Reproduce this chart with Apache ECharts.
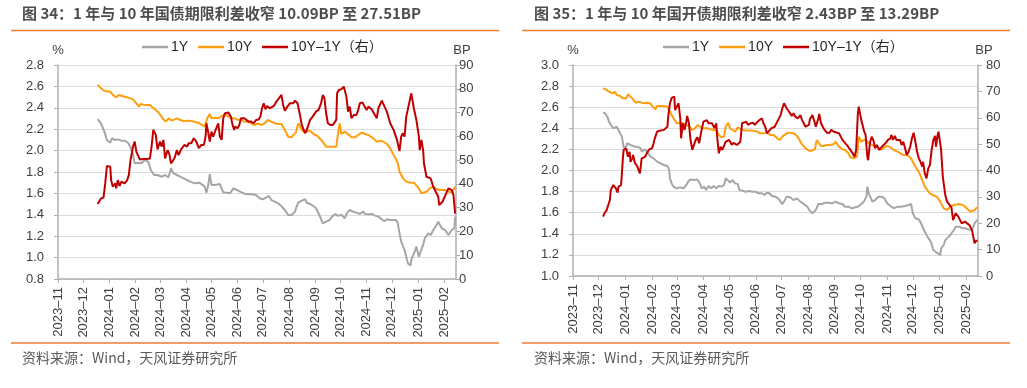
<!DOCTYPE html>
<html><head><meta charset="utf-8">
<script src="https://cdn.jsdelivr.net/npm/echarts@6/dist/echarts.min.js"></script>
<style>
html,body{margin:0;padding:0;background:#fff;}
#wrap{position:relative;width:1027px;height:388px;overflow:hidden;}
#c1{position:absolute;left:0;top:0;width:513px;height:388px;}
#c2{position:absolute;left:513px;top:0;width:514px;height:388px;}
</style>
</head><body><div id="wrap"><div id="c1"></div><div id="c2"></div></div>
<script>
// ---------- text ----------
const title1 = '图 34：1 年与 10 年国债期限利差收窄 10.09BP 至 27.51BP';
const title2 = '图 35：1 年与 10 年国开债期限利差收窄 2.43BP 至 13.29BP';
const sourceText = '资料来源：Wind，天风证券研究所';
const seriesNames = ['1Y', '10Y', '10Y–1Y（右）'];
const monthTicks = ['2023-11-01','2023-12-01','2024-01-01','2024-02-01','2024-03-01','2024-04-01','2024-05-01','2024-06-01','2024-07-01','2024-08-01','2024-09-01','2024-10-01','2024-11-01','2024-12-01','2025-01-01','2025-02-01'];
const xRange = ['2023-11-01', '2025-02-15'];

// ---------- chart 34: 国债 ----------
const cgb1Y = [['2023-12-18',2.295],['2023-12-20',2.286],['2023-12-22',2.255],['2023-12-26',2.177],['2023-12-29',2.099],['2024-01-02',2.074],['2024-01-04',2.115],['2024-01-08',2.099],['2024-01-11',2.105],['2024-01-15',2.093],['2024-01-19',2.093],['2024-01-23',2.074],['2024-01-26',2.031],['2024-01-29',1.959],['2024-01-31',1.881],['2024-02-04',1.887],['2024-02-08',1.881],['2024-02-12',1.912],['2024-02-16',1.897],['2024-02-19',1.819],['2024-02-23',1.772],['2024-02-27',1.772],['2024-03-03',1.756],['2024-03-07',1.772],['2024-03-11',1.750],['2024-03-14',1.834],['2024-03-17',1.788],['2024-03-21',1.772],['2024-03-25',1.756],['2024-03-29',1.741],['2024-04-02',1.725],['2024-04-06',1.710],['2024-04-11',1.694],['2024-04-17',1.700],['2024-04-23',1.663],['2024-04-25',1.607],['2024-04-27',1.669],['2024-04-29',1.781],['2024-05-01',1.679],['2024-05-05',1.679],['2024-05-11',1.688],['2024-05-13',1.647],['2024-05-15',1.610],['2024-05-19',1.607],['2024-05-23',1.601],['2024-05-27',1.647],['2024-05-31',1.632],['2024-06-04',1.616],['2024-06-08',1.601],['2024-06-12',1.591],['2024-06-17',1.594],['2024-06-23',1.585],['2024-06-27',1.554],['2024-07-01',1.545],['2024-07-05',1.563],['2024-07-08',1.576],['2024-07-11',1.538],['2024-07-15',1.523],['2024-07-19',1.507],['2024-07-23',1.482],['2024-07-27',1.445],['2024-07-31',1.398],['2024-08-04',1.398],['2024-08-08',1.429],['2024-08-10',1.476],['2024-08-12',1.513],['2024-08-16',1.532],['2024-08-20',1.545],['2024-08-22',1.513],['2024-08-26',1.501],['2024-08-30',1.482],['2024-09-02',1.460],['2024-09-06',1.398],['2024-09-10',1.320],['2024-09-14',1.336],['2024-09-18',1.351],['2024-09-21',1.383],['2024-09-25',1.408],['2024-09-28',1.390],['2024-10-02',1.400],['2024-10-06',1.367],['2024-10-09',1.420],['2024-10-12',1.445],['2024-10-16',1.429],['2024-10-20',1.420],['2024-10-24',1.408],['2024-10-28',1.429],['2024-10-30',1.408],['2024-11-03',1.405],['2024-11-07',1.408],['2024-11-11',1.392],['2024-11-15',1.383],['2024-11-19',1.358],['2024-11-22',1.339],['2024-11-25',1.358],['2024-11-29',1.351],['2024-12-03',1.351],['2024-12-06',1.351],['2024-12-08',1.320],['2024-12-10',1.227],['2024-12-12',1.149],['2024-12-16',1.071],['2024-12-18',1.009],['2024-12-20',0.946],['2024-12-23',0.925],['2024-12-24',0.978],['2024-12-28',1.055],['2024-12-30',1.102],['2025-01-02',1.009],['2025-01-04',1.055],['2025-01-07',1.118],['2025-01-09',1.180],['2025-01-13',1.227],['2025-01-16',1.211],['2025-01-19',1.258],['2025-01-23',1.305],['2025-01-25',1.336],['2025-01-29',1.274],['2025-02-02',1.258],['2025-02-06',1.211],['2025-02-10',1.258],['2025-02-13',1.274],['2025-02-14',1.383]];

const cgb10Y = [['2023-12-18',2.616],['2023-12-22',2.582],['2023-12-26',2.557],['2024-01-02',2.551],['2024-01-05',2.520],['2024-01-09',2.498],['2024-01-12',2.520],['2024-01-19',2.504],['2024-01-23',2.495],['2024-01-29',2.479],['2024-02-02',2.442],['2024-02-05',2.411],['2024-02-07',2.436],['2024-02-12',2.426],['2024-02-18',2.426],['2024-02-21',2.404],['2024-02-26',2.373],['2024-02-29',2.348],['2024-03-05',2.292],['2024-03-08',2.270],['2024-03-11',2.302],['2024-03-15',2.280],['2024-03-21',2.302],['2024-03-25',2.286],['2024-03-29',2.277],['2024-04-05',2.280],['2024-04-11',2.270],['2024-04-17',2.255],['2024-04-23',2.224],['2024-04-26',2.302],['2024-04-29',2.342],['2024-05-01',2.302],['2024-05-05',2.308],['2024-05-09',2.302],['2024-05-13',2.323],['2024-05-17',2.339],['2024-05-21',2.317],['2024-05-25',2.302],['2024-05-29',2.302],['2024-06-01',2.286],['2024-06-05',2.292],['2024-06-09',2.270],['2024-06-13',2.270],['2024-06-17',2.255],['2024-06-21',2.239],['2024-06-25',2.255],['2024-06-29',2.239],['2024-07-03',2.255],['2024-07-07',2.286],['2024-07-11',2.270],['2024-07-15',2.255],['2024-07-19',2.249],['2024-07-23',2.249],['2024-07-27',2.193],['2024-07-31',2.130],['2024-08-04',2.124],['2024-08-06',2.146],['2024-08-09',2.168],['2024-08-12',2.255],['2024-08-15',2.208],['2024-08-18',2.177],['2024-08-22',2.177],['2024-08-26',2.186],['2024-08-30',2.155],['2024-09-04',2.136],['2024-09-10',2.083],['2024-09-14',2.037],['2024-09-20',2.037],['2024-09-26',2.037],['2024-09-28',2.155],['2024-09-30',2.255],['2024-10-02',2.155],['2024-10-06',2.177],['2024-10-10',2.155],['2024-10-14',2.124],['2024-10-18',2.124],['2024-10-22',2.146],['2024-10-26',2.168],['2024-10-30',2.155],['2024-11-03',2.146],['2024-11-09',2.114],['2024-11-13',2.083],['2024-11-17',2.093],['2024-11-21',2.083],['2024-11-25',2.062],['2024-11-29',2.021],['2024-12-03',1.959],['2024-12-06',1.918],['2024-12-08',1.881],['2024-12-10',1.804],['2024-12-14',1.741],['2024-12-18',1.710],['2024-12-23',1.700],['2024-12-27',1.700],['2024-12-29',1.694],['2025-01-02',1.647],['2025-01-05',1.601],['2025-01-07',1.594],['2025-01-11',1.616],['2025-01-15',1.647],['2025-01-19',1.663],['2025-01-23',1.641],['2025-01-27',1.632],['2025-02-02',1.632],['2025-02-06',1.616],['2025-02-10',1.610],['2025-02-13',1.647],['2025-02-14',1.663]];

const cgbSpread = [['2023-12-18',31.5],['2023-12-20',31.1],['2023-12-22',33.9],['2023-12-25',34.3],['2023-12-27',40.2],['2023-12-29',47.5],['2024-01-02',47.2],['2024-01-03',41.6],['2024-01-05',38.8],['2024-01-08',40.2],['2024-01-09',38.1],['2024-01-11',41.6],['2024-01-13',39.1],['2024-01-15',40.9],['2024-01-17',40.9],['2024-01-19',40.2],['2024-01-22',41.6],['2024-01-24',43.7],['2024-01-26',50.0],['2024-01-29',55.7],['2024-01-31',57.8],['2024-02-02',53.5],['2024-02-04',52.8],['2024-02-06',50.3],['2024-02-10',50.5],['2024-02-14',50.5],['2024-02-18',50.7],['2024-02-20',55.7],['2024-02-22',62.7],['2024-02-25',60.6],['2024-02-27',54.5],['2024-03-01',57.8],['2024-03-03',55.7],['2024-03-05',58.5],['2024-03-07',50.7],['2024-03-10',54.2],['2024-03-12',52.6],['2024-03-14',48.6],['2024-03-18',50.7],['2024-03-21',54.2],['2024-03-23',52.1],['2024-03-26',54.5],['2024-03-30',56.4],['2024-04-02',55.7],['2024-04-04',57.1],['2024-04-07',57.1],['2024-04-10',59.2],['2024-04-13',57.8],['2024-04-16',55.0],['2024-04-19',56.4],['2024-04-22',56.4],['2024-04-24',59.9],['2024-04-25',65.5],['2024-04-27',62.0],['2024-04-29',57.8],['2024-05-01',62.0],['2024-05-03',59.9],['2024-05-06',62.7],['2024-05-09',65.5],['2024-05-11',59.9],['2024-05-13',58.5],['2024-05-15',67.6],['2024-05-17',69.7],['2024-05-19',70.0],['2024-05-21',70.0],['2024-05-24',68.3],['2024-05-26',64.8],['2024-05-28',62.7],['2024-05-29',64.1],['2024-06-01',63.4],['2024-06-03',64.8],['2024-06-05',67.6],['2024-06-09',67.6],['2024-06-11',67.6],['2024-06-14',66.2],['2024-06-17',66.2],['2024-06-20',65.5],['2024-06-23',66.9],['2024-06-26',67.1],['2024-06-28',68.3],['2024-06-30',71.8],['2024-07-02',73.9],['2024-07-04',71.4],['2024-07-06',72.8],['2024-07-09',71.8],['2024-07-11',72.5],['2024-07-14',72.8],['2024-07-17',74.6],['2024-07-20',76.0],['2024-07-23',77.4],['2024-07-25',73.2],['2024-07-27',70.8],['2024-07-30',72.5],['2024-08-02',73.9],['2024-08-04',74.6],['2024-08-06',73.9],['2024-08-08',75.0],['2024-08-11',73.9],['2024-08-14',69.0],['2024-08-16',64.8],['2024-08-20',61.3],['2024-08-22',62.7],['2024-08-26',66.9],['2024-08-29',68.3],['2024-08-31',67.6],['2024-09-02',70.4],['2024-09-05',71.1],['2024-09-08',73.9],['2024-09-10',77.4],['2024-09-12',76.0],['2024-09-14',69.7],['2024-09-16',65.5],['2024-09-19',64.8],['2024-09-22',64.8],['2024-09-24',64.8],['2024-09-26',66.9],['2024-09-27',78.1],['2024-09-29',79.5],['2024-10-02',79.8],['2024-10-05',80.9],['2024-10-07',81.6],['2024-10-08',76.7],['2024-10-10',70.4],['2024-10-12',72.5],['2024-10-14',67.6],['2024-10-17',69.0],['2024-10-20',69.0],['2024-10-22',71.1],['2024-10-24',73.9],['2024-10-27',74.2],['2024-10-29',75.0],['2024-11-01',71.1],['2024-11-03',72.5],['2024-11-05',73.2],['2024-11-07',71.4],['2024-11-09',70.8],['2024-11-13',67.6],['2024-11-15',71.8],['2024-11-19',75.0],['2024-11-25',70.4],['2024-11-29',65.5],['2024-12-03',62.7],['2024-12-07',58.5],['2024-12-10',53.8],['2024-12-12',59.9],['2024-12-14',61.3],['2024-12-16',59.9],['2024-12-18',68.3],['2024-12-21',73.2],['2024-12-24',78.1],['2024-12-27',71.8],['2024-12-30',66.9],['2025-01-02',59.9],['2025-01-03',54.2],['2025-01-05',58.5],['2025-01-07',54.2],['2025-01-08',48.7],['2025-01-11',43.0],['2025-01-16',42.3],['2025-01-19',38.8],['2025-01-22',36.7],['2025-01-25',34.6],['2025-01-26',31.1],['2025-01-30',32.5],['2025-02-06',38.1],['2025-02-10',37.4],['2025-02-12',35.3],['2025-02-14',27.5]];

// ---------- chart 35: 国开债 ----------
const cdb1Y = [['2023-12-06',2.551],['2023-12-09',2.536],['2023-12-11',2.510],['2023-12-13',2.463],['2023-12-16',2.422],['2023-12-18',2.400],['2023-12-20',2.390],['2023-12-22',2.415],['2023-12-24',2.384],['2023-12-26',2.368],['2023-12-28',2.321],['2023-12-30',2.220],['2024-01-02',2.226],['2024-01-03',2.258],['2024-01-05',2.273],['2024-01-07',2.242],['2024-01-09',2.242],['2024-01-12',2.226],['2024-01-15',2.226],['2024-01-17',2.220],['2024-01-19',2.210],['2024-01-20',2.179],['2024-01-24',2.201],['2024-01-26',2.210],['2024-01-28',2.163],['2024-01-30',2.131],['2024-02-03',2.115],['2024-02-07',2.084],['2024-02-11',2.068],['2024-02-15',2.052],['2024-02-19',2.043],['2024-02-21',2.005],['2024-02-22',1.926],['2024-02-24',1.878],['2024-02-26',1.847],['2024-03-01',1.831],['2024-03-05',1.840],['2024-03-09',1.831],['2024-03-12',1.863],['2024-03-15',1.904],['2024-03-18',1.916],['2024-03-21',1.910],['2024-03-25',1.916],['2024-03-28',1.872],['2024-03-30',1.831],['2024-04-02',1.847],['2024-04-04',1.815],['2024-04-07',1.853],['2024-04-10',1.831],['2024-04-13',1.853],['2024-04-16',1.831],['2024-04-19',1.853],['2024-04-22',1.847],['2024-04-25',1.863],['2024-04-27',1.926],['2024-04-30',1.904],['2024-05-02',1.885],['2024-05-05',1.910],['2024-05-08',1.878],['2024-05-11',1.872],['2024-05-13',1.815],['2024-05-16',1.809],['2024-05-20',1.799],['2024-05-24',1.806],['2024-05-28',1.799],['2024-06-01',1.799],['2024-06-04',1.784],['2024-06-08',1.784],['2024-06-11',1.768],['2024-06-14',1.790],['2024-06-17',1.784],['2024-06-20',1.758],['2024-06-24',1.752],['2024-06-28',1.727],['2024-07-02',1.682],['2024-07-05',1.720],['2024-07-07',1.752],['2024-07-11',1.746],['2024-07-15',1.720],['2024-07-19',1.736],['2024-07-23',1.705],['2024-07-27',1.682],['2024-07-31',1.657],['2024-08-03',1.619],['2024-08-06',1.594],['2024-08-10',1.626],['2024-08-13',1.682],['2024-08-17',1.682],['2024-08-21',1.695],['2024-08-25',1.695],['2024-08-29',1.689],['2024-09-02',1.705],['2024-09-06',1.689],['2024-09-10',1.682],['2024-09-13',1.657],['2024-09-17',1.657],['2024-09-21',1.641],['2024-09-25',1.651],['2024-09-28',1.657],['2024-09-30',1.641],['2024-10-02',1.682],['2024-10-05',1.705],['2024-10-08',1.752],['2024-10-09',1.847],['2024-10-11',1.774],['2024-10-13',1.743],['2024-10-15',1.705],['2024-10-18',1.720],['2024-10-22',1.752],['2024-10-26',1.752],['2024-10-29',1.736],['2024-11-01',1.689],['2024-11-05',1.664],['2024-11-09',1.641],['2024-11-13',1.657],['2024-11-17',1.657],['2024-11-22',1.664],['2024-11-26',1.673],['2024-11-29',1.682],['2024-12-01',1.594],['2024-12-04',1.547],['2024-12-08',1.537],['2024-12-11',1.493],['2024-12-14',1.436],['2024-12-18',1.373],['2024-12-22',1.325],['2024-12-25',1.246],['2024-12-29',1.221],['2025-01-02',1.199],['2025-01-03',1.262],['2025-01-06',1.294],['2025-01-08',1.341],['2025-01-12',1.373],['2025-01-15',1.404],['2025-01-18',1.436],['2025-01-20',1.468],['2025-01-24',1.468],['2025-01-28',1.452],['2025-01-31',1.452],['2025-02-04',1.442],['2025-02-08',1.436],['2025-02-11',1.499],['2025-02-12',1.515],['2025-02-14',1.531]];

const cdb10Y = [['2023-12-06',2.779],['2023-12-09',2.769],['2023-12-13',2.747],['2023-12-17',2.731],['2023-12-20',2.747],['2023-12-22',2.716],['2023-12-26',2.706],['2023-12-29',2.684],['2024-01-02',2.684],['2024-01-04',2.722],['2024-01-07',2.700],['2024-01-10',2.675],['2024-01-13',2.643],['2024-01-17',2.652],['2024-01-20',2.643],['2024-01-24',2.637],['2024-01-27',2.643],['2024-01-30',2.637],['2024-02-02',2.605],['2024-02-05',2.580],['2024-02-07',2.611],['2024-02-11',2.611],['2024-02-15',2.611],['2024-02-19',2.605],['2024-02-21',2.573],['2024-02-24',2.526],['2024-02-27',2.485],['2024-03-01',2.447],['2024-03-05',2.453],['2024-03-08',2.447],['2024-03-11',2.431],['2024-03-15',2.422],['2024-03-19',2.384],['2024-03-22',2.400],['2024-03-25',2.431],['2024-03-28',2.415],['2024-04-01',2.400],['2024-04-05',2.400],['2024-04-09',2.390],['2024-04-13',2.384],['2024-04-16',2.378],['2024-04-19',2.336],['2024-04-22',2.314],['2024-04-25',2.321],['2024-04-27',2.415],['2024-04-30',2.453],['2024-05-02',2.400],['2024-05-05',2.384],['2024-05-08',2.368],['2024-05-11',2.409],['2024-05-14',2.393],['2024-05-17',2.384],['2024-05-20',2.378],['2024-05-24',2.378],['2024-05-28',2.378],['2024-05-31',2.374],['2024-06-03',2.368],['2024-06-06',2.352],['2024-06-10',2.352],['2024-06-14',2.359],['2024-06-18',2.336],['2024-06-22',2.336],['2024-06-26',2.305],['2024-06-29',2.289],['2024-07-02',2.321],['2024-07-06',2.346],['2024-07-09',2.359],['2024-07-11',2.368],['2024-07-15',2.352],['2024-07-18',2.336],['2024-07-21',2.305],['2024-07-24',2.258],['2024-07-29',2.210],['2024-08-02',2.188],['2024-08-05',2.188],['2024-08-09',2.201],['2024-08-11',2.289],['2024-08-13',2.299],['2024-08-16',2.232],['2024-08-19',2.232],['2024-08-23',2.242],['2024-08-27',2.242],['2024-08-31',2.251],['2024-09-02',2.273],['2024-09-06',2.226],['2024-09-10',2.201],['2024-09-13',2.194],['2024-09-17',2.163],['2024-09-19',2.125],['2024-09-23',2.115],['2024-09-25',2.115],['2024-09-27',2.131],['2024-09-29',2.320],['2024-09-30',2.336],['2024-10-02',2.273],['2024-10-04',2.264],['2024-10-07',2.295],['2024-10-10',2.264],['2024-10-13',2.251],['2024-10-17',2.232],['2024-10-21',2.220],['2024-10-23',2.201],['2024-10-26',2.201],['2024-10-30',2.226],['2024-11-02',2.232],['2024-11-05',2.220],['2024-11-09',2.194],['2024-11-13',2.179],['2024-11-17',2.163],['2024-11-20',2.147],['2024-11-24',2.147],['2024-11-27',2.131],['2024-11-30',2.100],['2024-12-04',2.036],['2024-12-08',1.989],['2024-12-12',1.910],['2024-12-15',1.847],['2024-12-18',1.815],['2024-12-21',1.784],['2024-12-24',1.768],['2024-12-26',1.784],['2024-12-29',1.752],['2025-01-02',1.705],['2025-01-06',1.641],['2025-01-10',1.626],['2025-01-14',1.657],['2025-01-18',1.673],['2025-01-24',1.682],['2025-01-28',1.673],['2025-01-31',1.657],['2025-02-06',1.610],['2025-02-08',1.600],['2025-02-11',1.626],['2025-02-14',1.651]];

const cdbSpread = [['2023-12-06',22.5],['2023-12-08',24.0],['2023-12-10',24.8],['2023-12-12',25.3],['2023-12-14',28.8],['2023-12-15',32.6],['2023-12-17',33.2],['2023-12-18',34.5],['2023-12-20',35.1],['2023-12-21',33.2],['2023-12-23',31.6],['2023-12-24',33.9],['2023-12-26',34.1],['2023-12-27',34.5],['2023-12-28',38.9],['2023-12-29',44.0],['2023-12-30',47.8],['2024-01-02',48.4],['2024-01-03',48.4],['2024-01-04',45.2],['2024-01-06',47.1],['2024-01-07',43.3],['2024-01-09',44.6],['2024-01-10',45.9],['2024-01-12',43.0],['2024-01-13',42.5],['2024-01-15',41.5],['2024-01-18',38.9],['2024-01-19',41.7],['2024-01-20',44.6],['2024-01-22',45.2],['2024-01-24',45.2],['2024-01-27',47.1],['2024-01-29',48.0],['2024-01-31',47.8],['2024-02-01',48.4],['2024-02-03',50.3],['2024-02-04',51.8],['2024-02-06',53.8],['2024-02-07',54.7],['2024-02-10',55.1],['2024-02-12',55.1],['2024-02-15',55.4],['2024-02-17',55.4],['2024-02-19',56.6],['2024-02-20',60.4],['2024-02-22',65.5],['2024-02-24',67.5],['2024-02-26',67.5],['2024-02-27',68.0],['2024-02-28',62.9],['2024-03-01',64.2],['2024-03-03',65.5],['2024-03-05',59.8],['2024-03-06',52.2],['2024-03-08',57.9],['2024-03-10',55.4],['2024-03-12',58.5],['2024-03-13',60.7],['2024-03-15',58.1],['2024-03-17',51.6],['2024-03-19',47.8],['2024-03-21',48.4],['2024-03-23',51.6],['2024-03-25',52.6],['2024-03-27',50.3],['2024-03-28',52.2],['2024-03-30',55.6],['2024-04-01',58.5],['2024-04-03',58.5],['2024-04-05',59.1],['2024-04-07',57.9],['2024-04-09',57.3],['2024-04-11',57.9],['2024-04-13',58.5],['2024-04-14',56.0],['2024-04-16',57.9],['2024-04-17',52.8],['2024-04-19',46.5],['2024-04-21',49.0],['2024-04-23',47.8],['2024-04-25',48.0],['2024-04-27',50.9],['2024-04-29',50.3],['2024-05-01',51.6],['2024-05-02',50.9],['2024-05-04',49.7],['2024-05-06',50.5],['2024-05-08',50.9],['2024-05-10',49.7],['2024-05-12',49.0],['2024-05-14',50.9],['2024-05-16',57.9],['2024-05-18',57.3],['2024-05-21',58.5],['2024-05-23',57.3],['2024-05-26',57.9],['2024-05-29',58.1],['2024-05-31',57.3],['2024-06-03',58.5],['2024-06-05',59.1],['2024-06-08',59.8],['2024-06-10',57.9],['2024-06-12',56.6],['2024-06-14',54.1],['2024-06-16',54.3],['2024-06-19',56.0],['2024-06-21',56.0],['2024-06-23',56.6],['2024-06-25',57.3],['2024-06-27',59.1],['2024-06-30',61.0],['2024-07-02',63.6],['2024-07-04',65.5],['2024-07-06',64.9],['2024-07-07',63.6],['2024-07-09',63.2],['2024-07-11',61.7],['2024-07-13',60.7],['2024-07-15',61.7],['2024-07-17',60.4],['2024-07-20',59.8],['2024-07-23',61.0],['2024-07-25',59.1],['2024-07-27',57.9],['2024-07-29',56.6],['2024-07-31',56.0],['2024-08-02',57.3],['2024-08-03',59.4],['2024-08-05',59.8],['2024-08-06',61.0],['2024-08-09',57.9],['2024-08-10',56.6],['2024-08-13',59.8],['2024-08-14',61.4],['2024-08-16',57.9],['2024-08-19',56.0],['2024-08-21',55.1],['2024-08-23',54.3],['2024-08-26',54.3],['2024-08-28',55.4],['2024-08-31',54.7],['2024-09-02',54.3],['2024-09-06',54.1],['2024-09-08',53.5],['2024-09-10',51.6],['2024-09-12',52.2],['2024-09-15',49.7],['2024-09-18',48.4],['2024-09-20',48.0],['2024-09-22',46.5],['2024-09-24',45.2],['2024-09-26',47.8],['2024-09-28',61.7],['2024-09-29',64.2],['2024-10-02',59.1],['2024-10-04',56.6],['2024-10-05',55.1],['2024-10-07',53.5],['2024-10-09',45.2],['2024-10-10',43.9],['2024-10-12',50.3],['2024-10-14',52.8],['2024-10-16',51.6],['2024-10-18',48.4],['2024-10-20',49.7],['2024-10-23',47.8],['2024-10-25',47.8],['2024-10-28',49.7],['2024-10-31',50.6],['2024-11-02',51.6],['2024-11-05',52.2],['2024-11-06',53.5],['2024-11-08',51.6],['2024-11-10',53.1],['2024-11-12',51.6],['2024-11-14',50.9],['2024-11-16',51.6],['2024-11-18',49.7],['2024-11-20',50.9],['2024-11-22',48.4],['2024-11-24',45.9],['2024-11-26',47.1],['2024-11-28',49.0],['2024-11-30',52.2],['2024-12-02',54.3],['2024-12-04',50.9],['2024-12-06',47.1],['2024-12-08',44.6],['2024-12-10',43.3],['2024-12-12',41.5],['2024-12-13',43.3],['2024-12-15',38.9],['2024-12-17',37.0],['2024-12-19',40.8],['2024-12-21',42.1],['2024-12-23',47.8],['2024-12-25',51.6],['2024-12-27',53.1],['2024-12-28',49.0],['2024-12-30',53.5],['2024-12-31',54.7],['2025-01-03',47.8],['2025-01-05',37.7],['2025-01-06',35.1],['2025-01-08',30.5],['2025-01-10',28.2],['2025-01-13',26.9],['2025-01-15',26.0],['2025-01-17',21.2],['2025-01-20',23.8],['2025-01-23',22.5],['2025-01-27',20.0],['2025-01-31',20.6],['2025-02-05',19.3],['2025-02-08',17.4],['2025-02-11',12.4],['2025-02-13',13.6],['2025-02-14',13.0]];

// ---------- helpers ----------
const toTs = s => new Date(s + 'T00:00:00').getTime();
const toSeries = arr => arr.map(p => [toTs(p[0]), p[1]]);
const monthTs = monthTicks.map(toTs);
const pad2 = n => (n < 10 ? '0' : '') + n;
const fmtMonth = v => { const d = new Date(v); return d.getFullYear() + '–' + pad2(d.getMonth() + 1); };

const LATIN = '"Liberation Sans", Arial, "Noto Sans CJK SC", sans-serif';
const CJK = '"Noto Sans CJK SC", "Liberation Sans", sans-serif';
const AXIS_COLOR = '#B0B0B0';
const TEXT_COLOR = '#404040';
const ORANGE_RULE = '#ED7D31';
const COLORS = ['#A6A6A6', '#FF9F0F', '#C00000'];

function buildOption(cfg) {
  const yAxisCommon = {
    type: 'value',
    axisLine: { show: true, lineStyle: { color: AXIS_COLOR, width: 1.5 } },
    axisTick: { show: true, inside: false, length: 4, lineStyle: { color: AXIS_COLOR } },
    nameLocation: 'end',
    nameGap: 8,
  };
  return {
    animation: false,
    backgroundColor: '#fff',
    textStyle: { fontFamily: LATIN },
    title: {
      text: cfg.title, left: cfg.titleX, top: 6, padding: 0,
      textStyle: { fontFamily: CJK, fontSize: 15, fontWeight: 'bold', color: '#4D4D4D' }
    },
    graphic: [
      { type: 'line', shape: { x1: cfg.ruleX1, y1: 30.5, x2: cfg.ruleX2, y2: 30.5 }, style: { stroke: ORANGE_RULE, lineWidth: 1.5 } },
      { type: 'line', shape: { x1: cfg.ruleX1, y1: 343, x2: cfg.ruleX2, y2: 343 }, style: { stroke: ORANGE_RULE, lineWidth: 1.5 } },
      { type: 'text', left: cfg.titleX, top: 351, style: { text: sourceText, font: '14px ' + CJK, fill: '#595959' } }
    ],
    legend: {
      top: 40, left: cfg.legendX, padding: 0, icon: 'rect', itemWidth: 26, itemHeight: 2.5, itemGap: 10,
      textStyle: { fontSize: 14, color: '#262626', fontFamily: LATIN, padding: [0, 0, 0, -2] },
      data: seriesNames
    },
    grid: { left: cfg.gridLeft, right: cfg.gridRight, top: 65, bottom: cfg.gridBottom, containLabel: false },
    xAxis: {
      type: 'value', min: toTs(xRange[0]), max: toTs(xRange[1]),
      axisLine: { show: true, onZero: false, lineStyle: { color: AXIS_COLOR, width: 1.5 } },
      axisTick: { show: true, length: 4, customValues: monthTs, lineStyle: { color: AXIS_COLOR } },
      axisLabel: { customValues: monthTs, rotate: 90, fontSize: 13, color: TEXT_COLOR, margin: 8, formatter: fmtMonth, showMinLabel: true, showMaxLabel: true },
      splitLine: { show: false }
    },
    yAxis: [
      Object.assign({}, yAxisCommon, {
        position: 'left', min: cfg.leftMin, max: cfg.leftMax, interval: 0.2,
        name: '%', nameTextStyle: { color: TEXT_COLOR, fontSize: 13, align: 'center' },
        axisLabel: { color: TEXT_COLOR, fontSize: 13, margin: 14, formatter: v => v.toFixed(1) },
        splitLine: { show: true, lineStyle: { color: '#DCDCDC', width: 1 } }
      }),
      Object.assign({}, yAxisCommon, {
        position: 'right', min: 0, max: cfg.rightMax, interval: 10,
        name: 'BP', nameTextStyle: { color: TEXT_COLOR, fontSize: 13, align: 'center', padding: [0, 0, 0, 12] },
        axisLabel: { color: TEXT_COLOR, fontSize: 13, margin: cfg.rightLabelMargin },
        splitLine: { show: false }
      })
    ],
    series: [
      { name: seriesNames[0], type: 'line', yAxisIndex: 0, data: toSeries(cfg.s1), symbol: 'none', lineStyle: { color: COLORS[0], width: 2 }, itemStyle: { color: COLORS[0] } },
      { name: seriesNames[1], type: 'line', yAxisIndex: 0, data: toSeries(cfg.s10), symbol: 'none', lineStyle: { color: COLORS[1], width: 2 }, itemStyle: { color: COLORS[1] } },
      { name: seriesNames[2], type: 'line', yAxisIndex: 1, data: toSeries(cfg.sSpread), symbol: 'none', lineStyle: { color: COLORS[2], width: 2 }, itemStyle: { color: COLORS[2] } }
    ]
  };
}

const chart1 = echarts.init(document.getElementById('c1'), null, { renderer: 'canvas' });
chart1.setOption(buildOption({
  title: title1, titleX: 22, ruleX1: 11, ruleX2: 499, legendX: 142,
  gridLeft: 58, gridRight: 57, gridBottom: 109,
  leftMin: 0.8, leftMax: 2.8, rightMax: 90, rightLabelMargin: 3,
  s1: cgb1Y, s10: cgb10Y, sSpread: cgbSpread
}));

const chart2 = echarts.init(document.getElementById('c2'), null, { renderer: 'canvas' });
chart2.setOption(buildOption({
  title: title2, titleX: 21, ruleX1: 9, ruleX2: 497, legendX: 150,
  gridLeft: 60, gridRight: 49, gridBottom: 112,
  leftMin: 1.0, leftMax: 3.0, rightMax: 80, rightLabelMargin: 8,
  s1: cdb1Y, s10: cdb10Y, sSpread: cdbSpread
}));
</script>
</body></html>
